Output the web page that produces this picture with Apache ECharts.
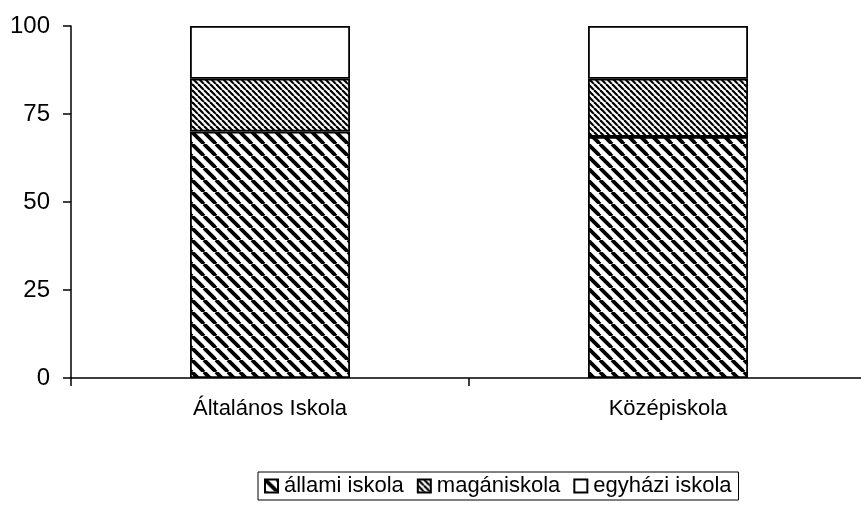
<!DOCTYPE html>
<html>
<head>
<meta charset="utf-8">
<script src="https://cdn.jsdelivr.net/npm/echarts@6/dist/echarts.min.js"></script>
<style>
  html, body { margin: 0; padding: 0; background: #fff; overflow: hidden; }
  /* a jobb oldali tengely vége kilóg a képből */
  #chart { width: 867px; height: 509px; }
</style>
</head>
<body>
<div id="chart"></div>
<script>
// adatok
var categories = ['Általános Iskola', 'Középiskola'];
var allami = [70, 68.5];
var maganiskola = [15, 16.5];
var egyhazi = [15, 15];
var yTicks = [0, 25, 50, 75, 100];

// csíkos minta (bal felsőből jobb alsó felé)
function stripes(size, lineW) {
    var c = document.createElement('canvas');
    c.width = size; c.height = size;
    var ctx = c.getContext('2d');
    ctx.fillStyle = '#fff';
    ctx.fillRect(0, 0, size, size);
    ctx.strokeStyle = '#000';
    ctx.lineWidth = lineW;
    for (var k = -1; k <= 1; k++) {
        ctx.beginPath();
        ctx.moveTo(k * size, 0);
        ctx.lineTo(k * size + size, size);
        ctx.stroke();
    }
    return { image: c, repeat: 'repeat' };
}

var patAllami = stripes(12, 3.8);
var patMagan = stripes(6, 2.2);

var font = 'Liberation Sans, Arial, sans-serif';
var chart = echarts.init(document.getElementById('chart'));

var barStyle = function (fill) {
    return { color: fill, borderColor: '#000', borderWidth: 1.8 };
};

chart.setOption({
    animation: false,
    backgroundColor: '#fff',
    grid: { left: 71, top: 26, right: 0, height: 352, containLabel: false },
    legend: {
        left: 258,
        top: 472,
        itemWidth: 13,
        itemHeight: 13,
        itemGap: 13,
        padding: [3, 7, 3, 6],
        borderColor: '#000',
        borderWidth: 1,
        textStyle: { fontFamily: font, fontSize: 22, color: '#000', padding: [0, 0, 0, 1] },
        data: [
            { name: 'állami iskola', icon: 'rect' },
            { name: 'magániskola', icon: 'rect' },
            { name: 'egyházi iskola', icon: 'rect' }
        ]
    },
    xAxis: {
        type: 'category',
        data: categories,
        boundaryGap: true,
        axisLine: { lineStyle: { color: '#000', width: 1.5 } },
        axisTick: { show: true, length: 8, lineStyle: { color: '#000', width: 1.5 } },
        axisLabel: { color: '#000', fontFamily: font, fontSize: 22, margin: 20 },
        splitLine: { show: false }
    },
    yAxis: {
        type: 'value',
        min: yTicks[0],
        max: yTicks[yTicks.length - 1],
        interval: 25,
        axisLine: { show: true, lineStyle: { color: '#000', width: 1.5 } },
        axisTick: { show: true, length: 8, lineStyle: { color: '#000', width: 1.5 } },
        axisLabel: { color: '#000', fontFamily: font, fontSize: 24, margin: 21 },
        splitLine: { show: false }
    },
    series: [
        { name: 'állami iskola', type: 'bar', stack: 'a', barWidth: 160, data: allami, itemStyle: barStyle(patAllami) },
        { name: 'magániskola', type: 'bar', stack: 'a', barWidth: 160, data: maganiskola, itemStyle: barStyle(patMagan) },
        { name: 'egyházi iskola', type: 'bar', stack: 'a', barWidth: 160, data: egyhazi, itemStyle: barStyle('#fff') }
    ]
});
</script>
</body>
</html>
